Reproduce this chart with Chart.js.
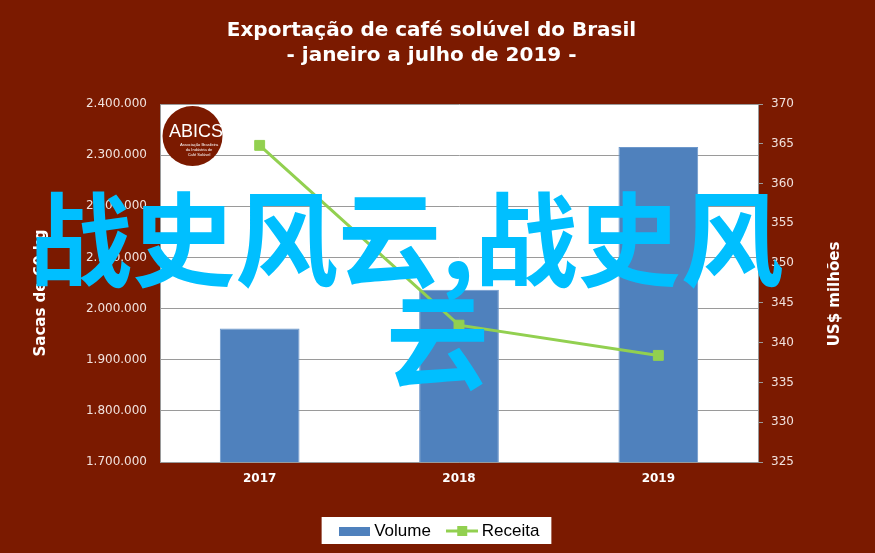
<!DOCTYPE html>
<html><head><meta charset="utf-8">
<script src="https://cdn.jsdelivr.net/npm/chart.js@4.4.0/dist/chart.umd.min.js"></script>
<style>
html,body{margin:0;padding:0;background:#7b1a00;}
#wrap{position:relative;width:875px;height:553px;overflow:hidden;}
canvas{display:block;}
.wm{position:absolute;color:#00bfff;font-family:"Noto Sans CJK SC";font-weight:700;font-size:103px;line-height:1;white-space:nowrap;pointer-events:none;}
</style></head>
<body><div id="wrap"><canvas id="c" width="875" height="553"></canvas>
<div class="wm" style="left:29px;top:183px;">战史风云,战史风</div>
<div class="wm" style="left:386px;top:285px;">云</div></div>
<script>
const titleLines = ['Exportação de café solúvel do Brasil', '- janeiro a julho de 2019 -'];
const years = ['2017', '2018', '2019'];
const volume = [1961000, 2037000, 2316000];
const receita = [364.8, 342.2, 338.4];
const leftRange = [1700000, 2400000, 100000];
const rightRange = [325, 370, 5];
const seriesNames = ['Volume', 'Receita'];
const axisTitles = ['Sacas de 60 kg', 'US$ milhões'];

const BG = '#7b1a00', BLUE = '#4f81bd', GREEN = '#92d050', GRID = '#9a9a9a', TICK = '#f1e2dd';

function legendImg(kind){
  const c = document.createElement('canvas');
  const g = c.getContext('2d');
  if (kind === 0) { c.width = 31; c.height = 9; g.fillStyle = BLUE; g.fillRect(0,0,31,9); }
  else { c.width = 32; c.height = 10; g.strokeStyle = GREEN; g.lineWidth = 3; g.beginPath(); g.moveTo(0,5); g.lineTo(32,5); g.stroke(); g.fillStyle = GREEN; g.fillRect(11,0,10,10); }
  return c;
}
const legendImgs = [legendImg(0), legendImg(1)];
const fmt = v => String(v).replace(/\B(?=(\d{3})+(?!\d))/g, '.');

const decor = {
  id: 'decor',
  afterLayout(chart){
    const t = chart.titleBlock;
    if (t){ t.left -= 6; t.right -= 6; }
    const lg = chart.legend;
    if (lg){
      lg.left += 4; lg.right += 4;
      (lg.legendHitBoxes || []).forEach(h => { h.left += 4; });
    }
  },
  beforeDraw(chart){
    const ctx = chart.ctx, a = chart.chartArea;
    ctx.save();
    ctx.fillStyle = BG; ctx.fillRect(0,0,chart.width,chart.height);
    ctx.fillStyle = '#fff'; ctx.fillRect(a.left, a.top, a.right-a.left, a.bottom-a.top);
    const hb = chart.legend.legendHitBoxes;
    if (hb && hb.length){
      const l = hb[0].left - 22, r = hb[hb.length-1].left + hb[hb.length-1].width + 12;
      const cy = hb[0].top + hb[0].height/2;
      ctx.fillStyle = '#fff'; ctx.fillRect(l, cy-14, r-l, 27);
    }
    ctx.restore();
  },
  afterDatasetsDraw(chart){
    const ctx = chart.ctx;
    ctx.save();
    ctx.fillStyle = BG; ctx.beginPath(); ctx.arc(192.5,136,30,0,Math.PI*2); ctx.fill();
    ctx.fillStyle = '#fff'; ctx.textAlign = 'center'; ctx.textBaseline = 'middle';
    ctx.font = '18px "Liberation Sans"'; ctx.fillText('ABICS', 196, 132);
    ctx.font = '4px "Liberation Sans"';
    ctx.fillText('Associação Brasileira', 199, 145); ctx.fillText('da Indústria de', 199, 150); ctx.fillText('Café Solúvel', 199, 155);
    ctx.restore();
  },
  afterDraw(chart){
    const ctx = chart.ctx;
    ctx.save();
    ctx.fillStyle = '#fff'; ctx.font = 'bold 15px "DejaVu Sans"'; ctx.textAlign = 'center'; ctx.textBaseline = 'middle';
    ctx.translate(41, 293); ctx.rotate(-Math.PI/2); ctx.fillText(axisTitles[0], 0, 0);
    ctx.restore();
    ctx.save();
    ctx.fillStyle = '#fff'; ctx.font = 'bold 15px "DejaVu Sans"'; ctx.textAlign = 'center'; ctx.textBaseline = 'middle';
    ctx.translate(835, 294); ctx.rotate(-Math.PI/2); ctx.fillText(axisTitles[1], 0, 0);
    ctx.restore();
  }
};

new Chart(document.getElementById('c'), {
  type: 'bar',
  data: {
    labels: years,
    datasets: [
      { label: seriesNames[0], data: volume, yAxisID: 'y', backgroundColor: BLUE, borderColor: '#6d98cb', borderWidth: 1, barPercentage: 0.4, categoryPercentage: 1, order: 1 },
      { type: 'line', label: seriesNames[1], data: receita, yAxisID: 'y1', borderColor: GREEN, borderWidth: 3, pointStyle: 'rect', pointRadius: 7, pointBackgroundColor: GREEN, pointBorderColor: GREEN, pointBorderWidth: 1, tension: 0, order: 0 }
    ]
  },
  options: {
    responsive: false, animation: false, devicePixelRatio: 1,
    layout: { padding: { left: 0, right: 0, top: 0, bottom: 3.5 } },
    plugins: {
      tooltip: { enabled: false },
      title: { display: true, text: titleLines, color: '#fff', font: { family: 'DejaVu Sans', size: 20, weight: 'bold', lineHeight: 1.25 }, padding: { top: 18.5, bottom: 35.5 } },
      legend: {
        position: 'bottom',
        labels: {
          usePointStyle: true, pointStyleWidth: 22, boxHeight: 10, padding: 20.4, color: '#000',
          font: { family: 'Liberation Sans', size: 17 },
          generateLabels(chart){ return chart.data.datasets.map((d,i) => ({ text: d.label, pointStyle: legendImgs[i], datasetIndex: i, hidden: false, lineWidth: 0, fillStyle: 'rgba(0,0,0,0)', strokeStyle: 'rgba(0,0,0,0)', fontColor: '#000' })); }
        }
      }
    },
    scales: {
      x: {
        grid: { display: false }, border: { display: true, color: GRID },
        ticks: { color: '#fff', font: { family: 'DejaVu Sans', size: 12, weight: 'bold' }, padding: 2 },
        afterFit(s){ s.height = 40.1; }
      },
      y: {
        position: 'left', min: leftRange[0], max: leftRange[1],
        ticks: { stepSize: leftRange[2], callback: v => fmt(v), color: TICK, font: { family: 'DejaVu Sans', size: 12 }, padding: 13 },
        grid: { color: GRID, drawTicks: false, tickLength: 0 }, border: { color: GRID },
        afterFit(s){ s.width = 160; }
      },
      y1: {
        position: 'right', min: rightRange[0], max: rightRange[1],
        ticks: { stepSize: rightRange[2], color: TICK, font: { family: 'DejaVu Sans', size: 12 }, padding: 8 },
        grid: { drawOnChartArea: false, color: GRID, tickLength: 5 }, border: { color: GRID },
        afterFit(s){ s.width = 117; }
      }
    }
  },
  plugins: [decor]
});
</script>
</body></html>
